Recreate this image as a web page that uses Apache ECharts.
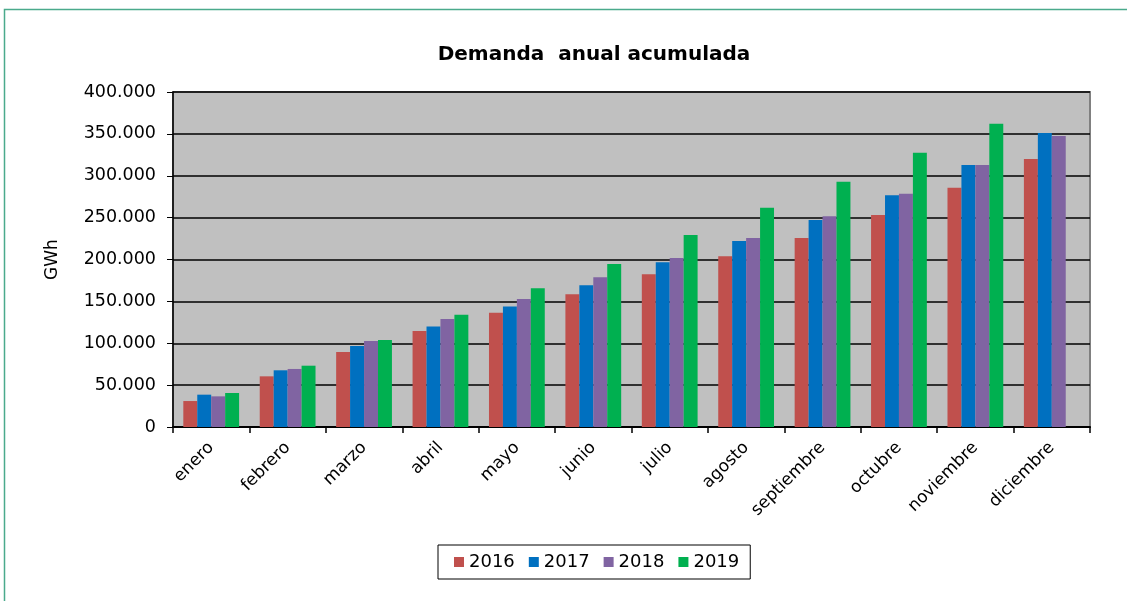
<!DOCTYPE html>
<html>
<head>
<meta charset="utf-8">
<script src="https://cdn.jsdelivr.net/npm/echarts@6/dist/echarts.min.js"></script>
<style>
  html, body { margin: 0; padding: 0; background: #fff; }
  #chart { width: 1127px; height: 601px; }
</style>
</head>
<body>
<div id="chart"></div>
<script>
// meses
const months = ['enero', 'febrero', 'marzo', 'abril', 'mayo', 'junio', 'julio', 'agosto', 'septiembre', 'octubre', 'noviembre', 'diciembre'];
// demanda acumulada (GWh)
const d2016 = [31000, 60500, 89500, 114600, 136500, 158400, 182300, 203800, 225700, 253100, 285700, 320000];
const d2017 = [38600, 67700, 96700, 120000, 144000, 169200, 196600, 222100, 247200, 276600, 312800, 351000];
const d2018 = [36600, 69300, 102700, 129000, 152800, 178700, 201800, 225700, 251600, 278600, 312800, 347500];
const d2019 = [40600, 73200, 103900, 134000, 165600, 194600, 229300, 261900, 292900, 327500, 362200, null];
const yTicks = [0, 50000, 100000, 150000, 200000, 250000, 300000, 350000, 400000];

const colors = ['#C0504D', '#0070C0', '#8064A2', '#00B050'];
const font = 'DejaVu Sans, Arial, sans-serif';

// formato 400.000
function fmt(v) {
    if (v === 0) return '0';
    return String(v).replace(/\B(?=(\d{3})+(?!\d))/g, '.');
}

const myChart = echarts.init(document.getElementById('chart'));

function bar(name, data, i) {
    return {
        name: name,
        type: 'bar',
        data: data,
        barGap: '0%',
        barCategoryGap: '27%',
        itemStyle: { color: colors[i] }
    };
}

const option = {
    animation: false,
    color: colors,
    graphic: [{
        type: 'rect',
        shape: { x: 4.5, y: 9.5, width: 1130, height: 600 },
        style: { fill: 'none', stroke: '#4AAA8C', lineWidth: 1.5 },
        z: -1
    }],
    title: {
        text: 'Demanda  anual acumulada',
        left: 589,
        textAlign: 'center',
        top: 40,
        textStyle: { fontFamily: font, fontSize: 20, fontWeight: 'bold', color: '#000' }
    },
    grid: {
        left: 173,
        right: 37,
        top: 92,
        bottom: 174,
        show: true,
        backgroundColor: '#C0C0C0',
        borderColor: '#808080',
        borderWidth: 2
    },
    legend: {
        data: ['2016', '2017', '2018', '2019'],
        left: 438,
        top: 545,
        padding: [8, 11, 8, 16],
        itemWidth: 10,
        itemHeight: 10,
        itemGap: 14,
        borderColor: '#000',
        borderWidth: 1,
        icon: 'rect',
        textStyle: { fontFamily: font, fontSize: 18, color: '#000' }
    },
    xAxis: {
        type: 'category',
        data: months,
        axisLine: { lineStyle: { color: '#000', width: 2 } },
        axisTick: { show: true, length: 6, lineStyle: { color: '#000', width: 1.5 } },
        axisLabel: {
            rotate: 45,
            fontFamily: font,
            fontSize: 17,
            color: '#000',
            margin: 18,
            interval: 0
        }
    },
    yAxis: {
        type: 'value',
        min: 0,
        max: 400000,
        interval: 50000,
        name: 'GWh',
        nameLocation: 'middle',
        nameGap: 112,
        nameRotate: 90,
        nameTextStyle: { fontFamily: font, fontSize: 17, color: '#000' },
        axisLine: { show: true, lineStyle: { color: '#000', width: 1.5 } },
        axisTick: { show: true, length: 6, lineStyle: { color: '#000' } },
        splitLine: { lineStyle: { color: '#000', width: 1.5 } },
        axisLabel: {
            fontFamily: font,
            fontSize: 17.5,
            color: '#000',
            margin: 17,
            formatter: function (v) { return yTicks.indexOf(v) >= 0 ? fmt(v) : ''; }
        }
    },
    series: [
        bar('2016', d2016, 0),
        bar('2017', d2017, 1),
        bar('2018', d2018, 2),
        bar('2019', d2019, 3)
    ]
};

myChart.setOption(option);
</script>
</body>
</html>
